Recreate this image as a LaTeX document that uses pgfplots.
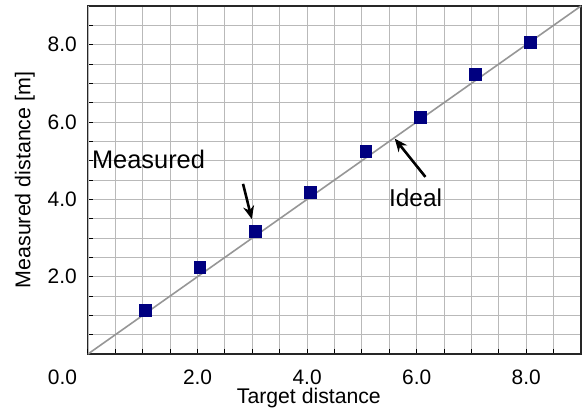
\documentclass[border=0pt]{standalone}
\usepackage{pgfplots}
\pgfplotsset{compat=1.18}
\usepackage{fontspec}
\setmainfont{Liberation Sans}
\usetikzlibrary{arrows.meta}
\definecolor{marknavy}{RGB}{0,0,128}
\definecolor{gridgray}{RGB}{185,185,185}
\definecolor{idealgray}{RGB}{150,150,150}
\begin{document}
\begin{tikzpicture}[x=1bp,y=1bp]
\path[use as bounding box] (-88bp,-56bp) rectangle (498bp,354bp);
\begin{axis}[
  scale only axis,
  width=493bp, height=348bp,
  xmin=0, xmax=9, ymin=0, ymax=9,
  xtick={2,4,6,8}, ytick={2,4,6,8},
  minor xtick={0.5,1,...,9}, minor ytick={0.5,1,...,9},
  extra x ticks={0}, extra x tick labels={0.0},
  extra x tick style={xticklabel style={xshift=-25.5bp}},
  grid=both,
  major grid style={gridgray, line width=0.9bp},
  minor grid style={gridgray, line width=0.9bp},
  tick pos=left,
  tick align=inside,
  major tick length=5bp, minor tick length=5bp,
  every tick/.style={black, line width=1bp},
  axis line style={black!85, line width=1.6bp},
  /pgf/number format/assume math mode=true,
  xticklabel={\pgfmathprintnumber[fixed,fixed zerofill,precision=1,assume math mode=true]{\tick}},
  yticklabel={\pgfmathprintnumber[fixed,fixed zerofill,precision=1,assume math mode=true]{\tick}},
  xticklabel style={font=\fontsize{21}{25}\selectfont, anchor=base, inner sep=0pt, yshift=-30bp},
  yticklabel style={font=\fontsize{21}{25}\selectfont, anchor=east, inner sep=0pt, xshift=-11bp},
  xlabel={Target distance},
  ylabel={Measured distance [m]},
  xlabel style={font=\fontsize{21.3}{25}\selectfont, at={(axis description cs:0.448,-0.142)}, anchor=base, inner sep=0pt},
  ylabel style={font=\fontsize{21.5}{25}\selectfont, at={(axis description cs:-0.128,0.5)}, anchor=center, inner sep=0pt},
  clip=false,
]
\addplot[idealgray, line width=1.6bp] coordinates {(0,0) (9,9)};
\addplot[only marks, mark=square*, mark size=5.9bp, mark options={marknavy, fill=marknavy}]
  coordinates {
  (1.05,1.13) (2.04,2.24) (3.05,3.18) (4.05,4.19)
  (5.07,5.25) (6.07,6.12) (7.07,7.23) (8.07,8.06)
  };
\node[anchor=west, inner sep=0pt, font=\fontsize{25.5}{30}\selectfont] at (axis cs:0.07,5.04) {Measured};
\draw[-{Stealth[length=13bp,width=11bp]}, line width=2.6bp] (axis cs:2.83,4.40) -- (axis cs:2.99,3.49);
\node[inner sep=0pt, font=\fontsize{24.5}{29}\selectfont] at (axis cs:5.98,4.05) {Ideal};
\draw[-{Stealth[length=13bp,width=11bp]}, line width=2.6bp] (axis cs:6.16,4.58) -- (axis cs:5.60,5.57);
\end{axis}
\end{tikzpicture}
\end{document}
